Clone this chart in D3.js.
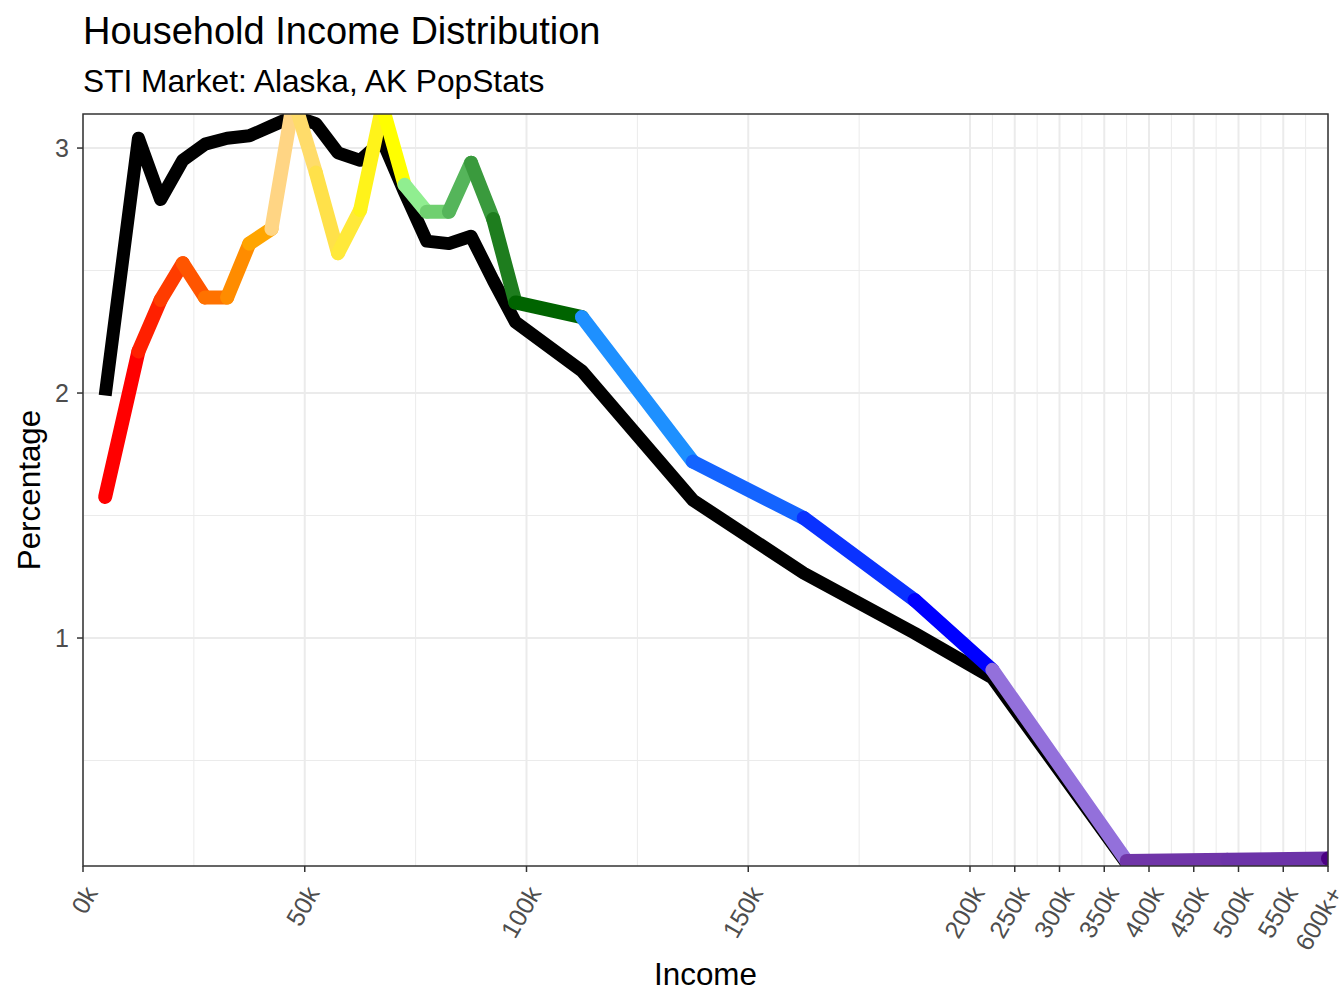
<!DOCTYPE html>
<html lang="en">
  <head>
    <meta charset="UTF-8" />
    <title>Household Income Distribution</title>
    <script src="https://d3js.org/d3.v7.min.js"></script>
    <style>
      body { margin: 0; background: #fff; }
      text { font-family: "Liberation Sans", Arial, sans-serif; }
    </style>
  </head>
  <body>
    <svg width="1344" height="1008" id="chart"></svg>

    <script>
      // Income bin midpoints (thousands)
      const incomeK = [5, 12.5, 17.5, 22.5, 27.5, 32.5, 37.5, 42.5, 47.5, 52.5,
        57.5, 62.5, 67.5, 72.5, 77.5, 82.5, 87.5, 92.5, 97.5, 112.5,
        137.5, 162.5, 187.5, 225, 375, 487.5, 600];

      // Market percentages (coloured line)
      const marketPct = [1.576, 2.17, 2.38, 2.53, 2.39, 2.39, 2.61, 2.67, 3.2, 2.9,
        2.571, 2.747, 3.17, 2.85, 2.74, 2.74, 2.94, 2.71, 2.37, 2.31,
        1.72, 1.49, 1.155, 0.87, 0.09, 0.095, 0.1];

      // Benchmark percentages (black line)
      const benchPct = [1.99, 3.04, 2.79, 2.95, 3.016, 3.04, 3.05, 3.09, 3.13, 3.1,
        2.98, 2.95, 3.03, 2.82, 2.62, 2.61, 2.64, 2.46, 2.29, 2.09,
        1.563, 1.265, 1.02, 0.837, 0.08, 0.08, 0.08];

      const binColors = ["#FF0000", "#FF2000", "#FF3C00", "#FF5500", "#FF7200", "#FF8C00",
        "#FFA500", "#FFD584", "#FFDC6A", "#FFE14A", "#FFE93A", "#FFF31A", "#FFFF00",
        "#90EE90", "#70D070", "#55B55A", "#3A9A3D", "#1E7D1E", "#006400",
        "#1E90FF", "#1464FF", "#0A32FF", "#0000FF", "#9370DB", "#7035A8", "#6C33A8", "#4B0082"];

      const xTicks = [0, 50, 100, 150, 200, 250, 300, 350, 400, 450, 500, 550, 600];
      const xTickLabels = ["0k", "50k", "100k", "150k", "200k", "250k", "300k", "350k",
        "400k", "450k", "500k", "550k", "600k+"];
      const xMinor = [25, 75, 125, 175, 225, 275, 325, 375, 425, 475, 525, 575];
      const yTicks = [1, 2, 3];
      const yMinor = [0.5, 1.5, 2.5];

      const svg = d3.select("#chart");
      const pLeft = 83, pRight = 1328, pTop = 114, pBottom = 866;

      // x is linear up to 200k, then compressed
      const x = d3.scaleLinear().domain([0, 200, 600]).range([pLeft, 970, pRight]);
      const y = d3.scaleLinear().domain([0.0694, 3.139]).range([pBottom, pTop]);

      svg.append("defs").append("clipPath").attr("id", "clip")
        .append("rect").attr("x", pLeft).attr("y", pTop)
        .attr("width", pRight - pLeft).attr("height", pBottom - pTop);

      // grid
      const grid = svg.append("g");
      grid.selectAll(".xminor").data(xMinor).join("line")
        .attr("x1", d => x(d)).attr("x2", d => x(d)).attr("y1", pTop).attr("y2", pBottom)
        .attr("stroke", "#EBEBEB").attr("stroke-width", 1);
      grid.selectAll(".yminor").data(yMinor).join("line")
        .attr("y1", d => y(d)).attr("y2", d => y(d)).attr("x1", pLeft).attr("x2", pRight)
        .attr("stroke", "#EBEBEB").attr("stroke-width", 1);
      grid.selectAll(".xmajor").data(xTicks).join("line")
        .attr("x1", d => x(d)).attr("x2", d => x(d)).attr("y1", pTop).attr("y2", pBottom)
        .attr("stroke", "#EBEBEB").attr("stroke-width", 2);
      grid.selectAll(".ymajor").data(yTicks).join("line")
        .attr("y1", d => y(d)).attr("y2", d => y(d)).attr("x1", pLeft).attr("x2", pRight)
        .attr("stroke", "#EBEBEB").attr("stroke-width", 2);

      const plot = svg.append("g").attr("clip-path", "url(#clip)");

      // black benchmark line
      const line = d3.line().x((d, i) => x(incomeK[i])).y(d => y(d));
      plot.append("path")
        .attr("d", line(benchPct))
        .attr("fill", "none")
        .attr("stroke", "black")
        .attr("stroke-width", 13)
        .attr("stroke-linejoin", "round")
        .attr("stroke-linecap", "butt");

      // coloured segments, each in the colour of its start bin
      const segs = d3.range(incomeK.length - 1);
      plot.selectAll(".seg").data(segs).join("line")
        .attr("x1", i => x(incomeK[i])).attr("y1", i => y(marketPct[i]))
        .attr("x2", i => x(incomeK[i + 1])).attr("y2", i => y(marketPct[i + 1]))
        .attr("stroke", i => binColors[i])
        .attr("stroke-width", 14)
        .attr("stroke-linecap", "round");
      const last = incomeK.length - 1;
      plot.append("circle")
        .attr("cx", x(incomeK[last])).attr("cy", y(marketPct[last]))
        .attr("r", 7).attr("fill", binColors[last]);

      // panel border
      svg.append("rect").attr("x", pLeft).attr("y", pTop)
        .attr("width", pRight - pLeft).attr("height", pBottom - pTop)
        .attr("fill", "none").attr("stroke", "#333333").attr("stroke-width", 1.5);

      // x axis
      const xAxis = svg.append("g");
      xAxis.selectAll("line").data(xTicks).join("line")
        .attr("x1", d => x(d)).attr("x2", d => x(d))
        .attr("y1", pBottom).attr("y2", pBottom + 6)
        .attr("stroke", "#333333").attr("stroke-width", 1.5);
      xAxis.selectAll("text").data(xTicks).join("text")
        .attr("transform", d => `translate(${x(d)},${pBottom + 18}) rotate(-60)`)
        .attr("text-anchor", "end")
        .attr("dy", "0.72em")
        .attr("font-size", 25)
        .attr("fill", "#4D4D4D")
        .text((d, i) => xTickLabels[i]);

      // y axis
      const yAxis = svg.append("g");
      yAxis.selectAll("line").data(yTicks).join("line")
        .attr("x1", pLeft - 6).attr("x2", pLeft)
        .attr("y1", d => y(d)).attr("y2", d => y(d))
        .attr("stroke", "#333333").attr("stroke-width", 1.5);
      yAxis.selectAll("text").data(yTicks).join("text")
        .attr("x", pLeft - 14).attr("y", d => y(d))
        .attr("dy", "0.36em")
        .attr("text-anchor", "end")
        .attr("font-size", 25)
        .attr("fill", "#4D4D4D")
        .text(d => d);

      // titles
      svg.append("text").attr("x", pLeft).attr("y", 44)
        .attr("font-size", 38).attr("fill", "black")
        .text("Household Income Distribution");
      svg.append("text").attr("x", pLeft).attr("y", 92)
        .attr("font-size", 31.7).attr("fill", "black")
        .text("STI Market: Alaska, AK PopStats");
      svg.append("text").attr("x", (pLeft + pRight) / 2).attr("y", 985)
        .attr("text-anchor", "middle")
        .attr("font-size", 31.4).attr("fill", "black")
        .text("Income");
      svg.append("text")
        .attr("transform", `translate(40,${(pTop + pBottom) / 2}) rotate(-90)`)
        .attr("text-anchor", "middle")
        .attr("font-size", 31.4).attr("fill", "black")
        .text("Percentage");
    </script>
  </body>
</html>
